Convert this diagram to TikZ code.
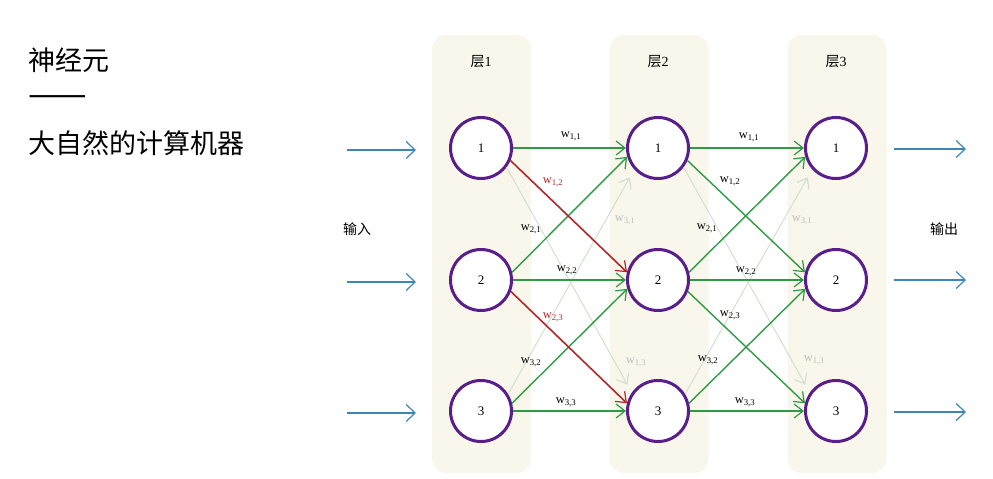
\documentclass[tikz,border=0pt]{standalone}
\usepackage{fontspec}
\setmainfont{Liberation Serif}
\newfontfamily\cjk{Noto Sans CJK SC}
\usetikzlibrary{arrows.meta}
\definecolor{panelc}{HTML}{F9F7EB}
\definecolor{neuron}{HTML}{5A1E8C}
\definecolor{wgreen}{HTML}{2F9A45}
\definecolor{wred}{HTML}{B0282A}
\definecolor{wblue}{HTML}{3D86B8}
\definecolor{wfaint}{HTML}{D3DFCF}
\definecolor{lfaint}{HTML}{BDBDBD}
\tikzset{
  panelbox/.style={rectangle, rounded corners=14pt, fill=panelc, minimum width=99pt, minimum height=438pt, inner sep=0pt},
  neuronc/.style={circle, draw=neuron, line width=3pt, fill=white, minimum size=61pt, inner sep=0pt, font=\fontsize{13}{15}\selectfont},
  layerlab/.style={font=\fontsize{14}{16}\selectfont},
  wlab/.style={font=\fontsize{12.5}{14}\selectfont, inner sep=1pt},
  wlabred/.style={wlab, text=wred},
  wlabfaint/.style={wlab, text=lfaint},
  tip/.style={-{Straight Barb[length=9pt,width=14pt,line width=1.2pt]}},
  garrow/.style={tip, draw=wgreen, line width=1.4pt},
  rarrow/.style={tip, draw=wred, line width=1.6pt},
  farrow/.style={tip, draw=wfaint, line width=1pt, shorten >=9pt},
  barrow/.style={-{Straight Barb[length=9pt,width=17pt,line width=1.2pt]}, draw=wblue, line width=1.4pt},
  sidelab/.style={font=\cjk\fontsize{14}{16}\selectfont},
  titlelab/.style={anchor=west, font=\cjk\fontsize{27}{32}\selectfont, inner sep=0pt}
}
\begin{document}
\begin{tikzpicture}[x=1pt,y=-1pt]
\useasboundingbox (0,0) rectangle (993,479);
% title
\node[titlelab] (t1) at (28,60) {神经元};
\node[titlelab, font=\cjk\fontsize{35}{40}\selectfont] (t2) at (28,101) {——};
\node[titlelab] (t3) at (28,143) {大自然的计算机器};
% panels
\node[panelbox] (p1) at (481.5,254) {};
\node[panelbox] (p2) at (659,254) {};
\node[panelbox] (p3) at (837,254) {};
\node[layerlab] (l1) at (481,62) {{\cjk 层}1};
\node[layerlab] (l2) at (658,62) {{\cjk 层}2};
\node[layerlab] (l3) at (836,62) {{\cjk 层}3};
% neurons
\foreach \n/\x in {a/481,b/658,c/836}{
  \node[neuronc] (\n1) at (\x,148) {1};
  \node[neuronc] (\n2) at (\x,280) {2};
  \node[neuronc] (\n3) at (\x,411) {3};
}
% side labels
\node[sidelab] (inl) at (357,229) {输入};
\node[sidelab] (outl) at (944,229) {输出};
% input / output arrows
\coordinate (i1) at (347,150); \coordinate (i2) at (347,282); \coordinate (i3) at (347,413);
\coordinate (o1) at (966,149); \coordinate (o2) at (966,280); \coordinate (o3) at (966,412);
\draw[barrow] (i1) -- ([xshift=-33pt]i1 -| a1.west);
\draw[barrow] (i2) -- ([xshift=-33pt]i2 -| a2.west);
\draw[barrow] (i3) -- ([xshift=-33pt]i3 -| a3.west);
\draw[barrow] ([xshift=26pt]o1 -| c1.east) -- (o1);
\draw[barrow] ([xshift=26pt]o2 -| c2.east) -- (o2);
\draw[barrow] ([xshift=26pt]o3 -| c3.east) -- (o3);
% layer 1 -> 2
\draw[farrow] (a1.-37) -- (b3.145);
\draw[farrow] (a3.32) -- (b1.222);
\draw[garrow] (a1.east) -- (b1.west);
\draw[garrow] (a2.14) -- (b1.196);
\draw[garrow] (a2.east) -- (b2.west);
\draw[garrow] (a3.14) -- (b2.196);
\draw[garrow] (a3.east) -- (b3.west);
\draw[rarrow] (a1.-23) -- (b2.166);
\draw[rarrow] (a2.-21) -- (b3.166);
% layer 2 -> 3
\draw[farrow] (b1.-37) -- (c3.145);
\draw[farrow] (b3.32) -- (c1.222);
\draw[garrow] (b1.east) -- (c1.west);
\draw[garrow] (b2.14) -- (c1.196);
\draw[garrow] (b2.east) -- (c2.west);
\draw[garrow] (b3.14) -- (c2.196);
\draw[garrow] (b3.east) -- (c3.west);
\draw[garrow] (b1.-23) -- (c2.166);
\draw[garrow] (b2.-21) -- (c3.166);
% weight labels layer 1 -> 2
\node[wlab] (w111) at (571,136) {w\textsubscript{1,1}};
\node[wlabred] (w112) at (553,182) {w\textsubscript{1,2}};
\node[wlab] (w121) at (531,229) {w\textsubscript{2,1}};
\node[wlabfaint] (w131) at (625,220) {w\textsubscript{3,1}};
\node[wlab] (w122) at (567,270) {w\textsubscript{2,2}};
\node[wlabred] (w123) at (553,317) {w\textsubscript{2,3}};
\node[wlab] (w132) at (531,362) {w\textsubscript{3,2}};
\node[wlabfaint] (w113) at (636,362) {w\textsubscript{1,3}};
\node[wlab] (w133) at (566,402) {w\textsubscript{3,3}};
% weight labels layer 2 -> 3
\node[wlab] (w211) at (749,137) {w\textsubscript{1,1}};
\node[wlab] (w212) at (730,181) {w\textsubscript{1,2}};
\node[wlab] (w221) at (707,228) {w\textsubscript{2,1}};
\node[wlabfaint] (w231) at (802,220) {w\textsubscript{3,1}};
\node[wlab] (w222) at (746,271) {w\textsubscript{2,2}};
\node[wlab] (w223) at (730,315) {w\textsubscript{2,3}};
\node[wlab] (w232) at (708,360) {w\textsubscript{3,2}};
\node[wlabfaint] (w213) at (814,360) {w\textsubscript{1,3}};
\node[wlab] (w233) at (745,402) {w\textsubscript{3,3}};
\end{tikzpicture}
\end{document}
